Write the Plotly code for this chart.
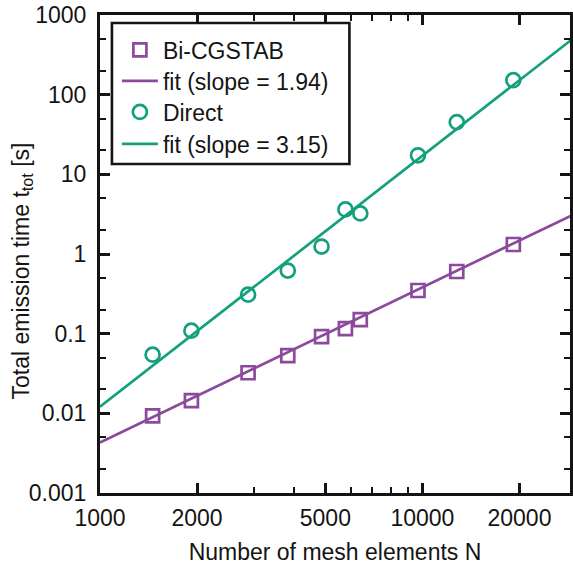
import numpy as np
import plotly.graph_objects as go

# ---- data ----
N_bicg = [1456, 1921, 2879, 3823, 4866, 5770, 6416, 9688, 12780, 19140]
t_bicg = [0.0093, 0.0144, 0.0323, 0.0529, 0.0917, 0.1156, 0.150, 0.348, 0.603, 1.316]

N_direct = [1456, 1921, 2879, 3823, 4866, 5770, 6416, 9688, 12780, 19140]
t_direct = [0.0545, 0.109, 0.309, 0.62, 1.24, 3.63, 3.23, 17.3, 45.1, 152]

fit_N = [1000, 30000]
fit_bicg = [0.0043, 3.25]
fit_direct = [0.0121, 545]

x_major = [1000, 2000, 5000, 10000, 20000]
x_major_text = ["1000", "2000", "5000", "10000", "20000"]
x_minor = [3000, 4000, 6000, 7000, 8000, 9000, 30000]

y_major = [0.001, 0.01, 0.1, 1, 10, 100, 1000]
y_major_text = ["0.001", "0.01", "0.1", "1", "10", "100", "1000"]
y_minor = [m * 10.0 ** e for e in range(-3, 3) for m in (2, 5)]

purple = "#8b4a9c"
green = "#12a07d"
ink = "#141414"
FONT = "Liberation Sans, Arial, Helvetica, sans-serif"
FS = 23

# plot area in pixels: x 100..573, y 15..493
PL, PW, PT, PH = 100, 473, 15, 478


def px_x(p):
    return (p - PL) / PW


def px_y(p):
    return 1 - (p - PT) / PH


fig = go.Figure()
fig.add_trace(go.Scatter(
    x=N_bicg, y=t_bicg, mode="markers", name="Bi-CGSTAB", legend="legend",
    marker=dict(symbol="square-open", size=13, color=purple, line=dict(width=2.7, color=purple)),
))
fig.add_trace(go.Scatter(
    x=fit_N, y=fit_bicg, mode="lines", name="fit (slope = 1.94)", legend="legend2",
    line=dict(color=purple, width=2.7),
))
fig.add_trace(go.Scatter(
    x=N_direct, y=t_direct, mode="markers", name="Direct", legend="legend3",
    marker=dict(symbol="circle-open", size=14, color=green, line=dict(width=2.7, color=green)),
))
fig.add_trace(go.Scatter(
    x=fit_N, y=fit_direct, mode="lines", name="fit (slope = 3.15)", legend="legend4",
    line=dict(color=green, width=2.7),
))

# legend frame
fig.add_shape(
    type="rect", xref="paper", yref="paper",
    x0=px_x(112), x1=px_x(351), y0=px_y(164), y1=px_y(23),
    line=dict(color=ink, width=2.6), fillcolor="white", layer="above",
)


def leg(py):
    return dict(
        x=px_x(117), y=px_y(py), xanchor="left", yanchor="middle",
        borderwidth=0, bgcolor="rgba(0,0,0,0)",
        font=dict(family=FONT, size=FS, color=ink),
        itemwidth=36,
    )


fig.update_layout(
    width=573, height=569,
    margin=dict(l=100, r=0, t=15, b=76),
    paper_bgcolor="white", plot_bgcolor="white",
    font=dict(family=FONT, size=FS, color=ink),
    showlegend=True,
    legend=leg(50), legend2=leg(81), legend3=leg(112), legend4=leg(144),
    annotations=[dict(
        text="Total emission time t<sub>tot</sub> [s]", textangle=-90,
        xref="paper", yref="paper", x=px_x(21), y=px_y(271),
        xanchor="center", yanchor="middle", showarrow=False,
        font=dict(family=FONT, size=FS, color=ink),
    )],
)

fig.update_xaxes(
    type="log", range=[3, np.log10(28690)],
    showline=True, linecolor=ink, linewidth=3, mirror="ticks",
    showgrid=False, zeroline=False,
    ticks="inside", ticklen=10, tickwidth=2.6, tickcolor=ink,
    tickmode="array", tickvals=x_major, ticktext=x_major_text,
    tickfont=dict(size=FS, color=ink),
    ticklabelstandoff=2,
    minor=dict(tickmode="array", tickvals=x_minor, ticks="inside", ticklen=6,
               tickwidth=2.4, tickcolor=ink, showgrid=False),
    title=dict(text="Number of mesh elements N", font=dict(size=FS, color=ink), standoff=15),
)
fig.update_yaxes(
    type="log", range=[-3, 3],
    showline=True, linecolor=ink, linewidth=3, mirror="ticks",
    showgrid=False, zeroline=False,
    ticks="inside", ticklen=10, tickwidth=2.6, tickcolor=ink,
    tickmode="array", tickvals=y_major, ticktext=y_major_text,
    tickfont=dict(size=FS, color=ink),
    ticklabelstandoff=6,
    minor=dict(tickmode="array", tickvals=y_minor, ticks="inside", ticklen=6,
               tickwidth=2.4, tickcolor=ink, showgrid=False),
)

fig.write_html("out.html")
